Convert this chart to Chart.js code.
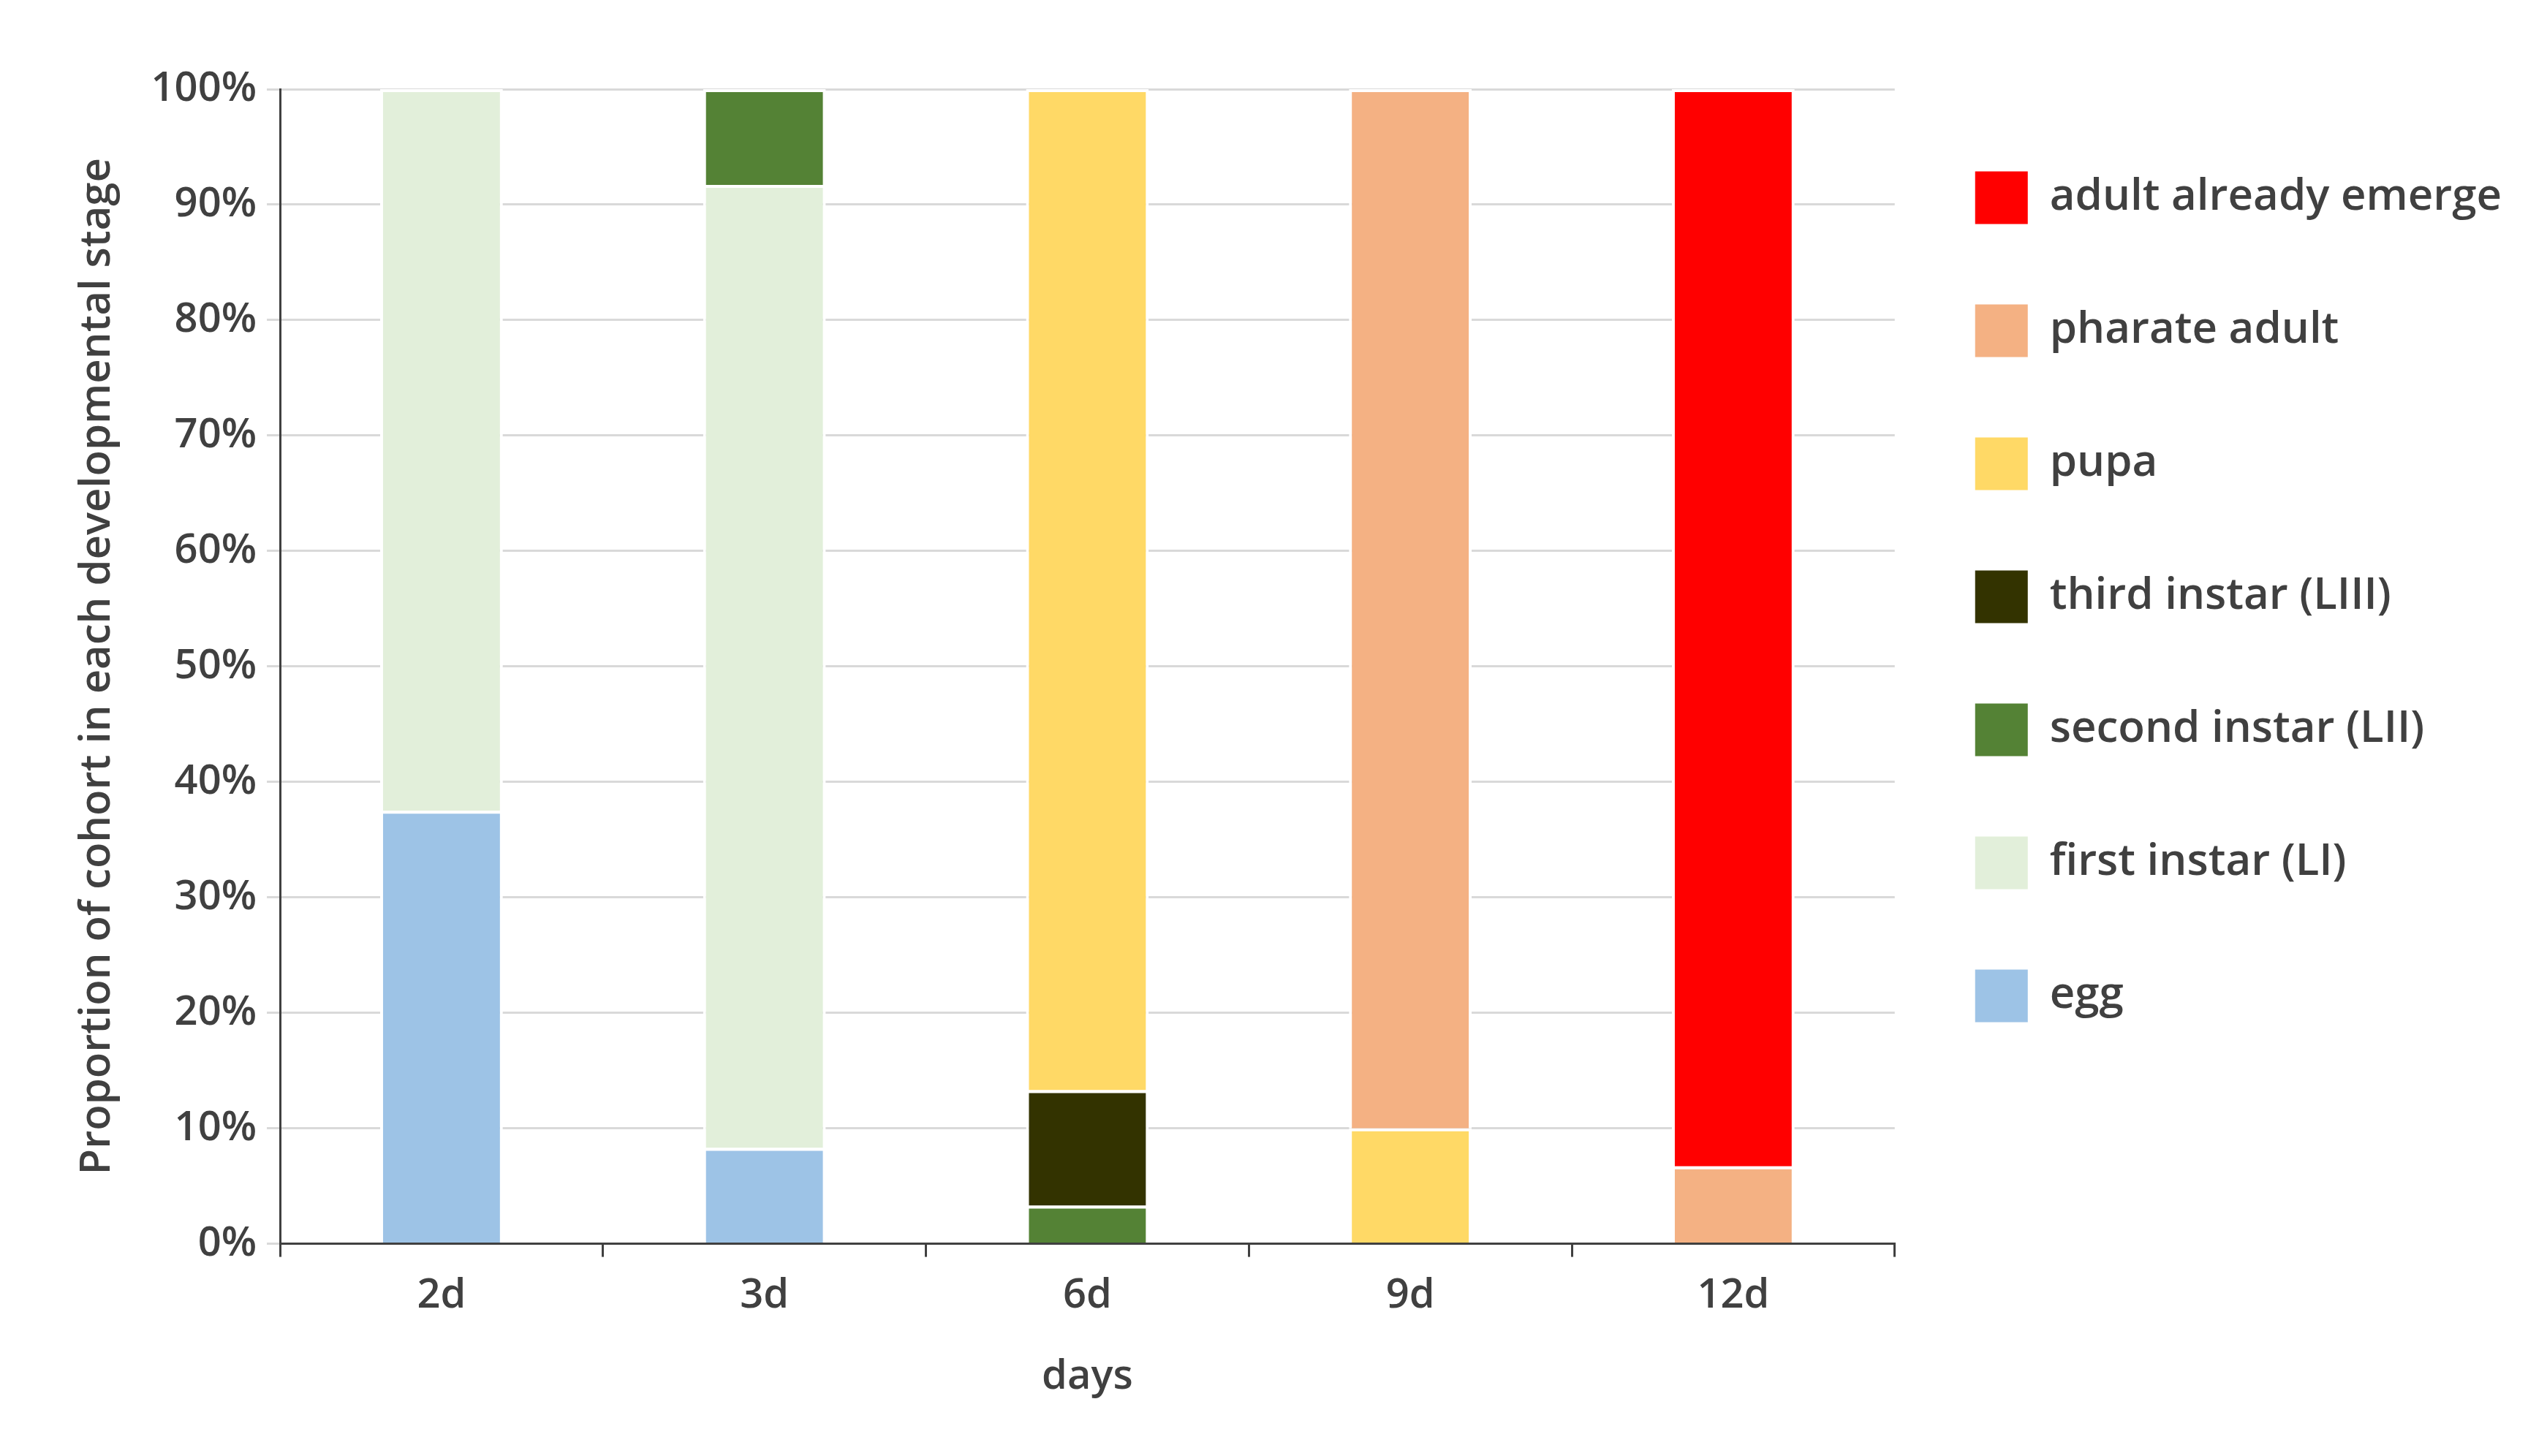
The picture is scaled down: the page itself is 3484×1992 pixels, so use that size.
<!DOCTYPE html>
<html><head><meta charset="utf-8">
<script src="https://cdn.jsdelivr.net/npm/chart.js@4"></script>
<style>html,body{margin:0;background:#fff}#wrap{width:3484px;height:1992px}</style>
</head><body><div id="wrap"><canvas id="c"></canvas></div>
<script>
const days = ['2d', '3d', '6d', '9d', '12d'];
const stages = ['egg', 'first instar (LI)', 'second instar (LII)', 'third instar (LIII)', 'pupa', 'pharate adult', 'adult already emerged'];
const stageColors = ['#9dc3e6', '#e2efda', '#548235', '#333300', '#ffd966', '#f4b183', '#ff0000'];
// percent of cohort per stage, one array per stage, one value per day
const egg = [37.5, 8.3, 0, 0, 0];
const firstInstar = [62.5, 83.4, 0, 0, 0];
const secondInstar = [0, 8.3, 3.3, 0, 0];
const thirdInstar = [0, 0, 10, 0, 0];
const pupa = [0, 0, 86.7, 10, 0];
const pharate = [0, 0, 0, 90, 6.7];
const adult = [0, 0, 0, 0, 93.3];
const stageValues = [egg, firstInstar, secondInstar, thirdInstar, pupa, pharate, adult];

const txt = '#404040';
const fnt = {family: '"Open Sans", sans-serif', size: 56, weight: '600'};

new Chart(document.getElementById('c').getContext('2d'), {
    type: 'bar',
    data: {
        labels: days,
        datasets: stages.map((name, i) => ({
            label: name,
            data: stageValues[i],
            backgroundColor: stageColors[i],
            borderColor: '#ffffff',
            borderWidth: 4,
            barPercentage: 0.38,
            categoryPercentage: 1
        }))
    },
    options: {
        responsive: true,
        maintainAspectRatio: false,
        animation: false,
        layout: {padding: {left: 95, right: 60, top: 122, bottom: 70}},
        scales: {
            x: {
                stacked: true,
                grid: {display: true, drawOnChartArea: false, offset: true, color: '#404040', tickLength: 18, lineWidth: 3},
                border: {color: '#404040', width: 3},
                ticks: {color: txt, font: fnt, padding: 20},
                title: {display: true, text: 'days', color: txt, font: fnt, padding: {top: 24}}
            },
            y: {
                stacked: true,
                min: 0, max: 100,
                grid: {color: '#d9d9d9', lineWidth: 3, tickLength: 18},
                border: {color: '#404040', width: 3},
                ticks: {stepSize: 10, color: txt, font: fnt, padding: 14, callback: v => v + '%'},
                title: {display: true, text: 'Proportion of cohort in each developmental stage', color: txt, font: {family: '"Open Sans", sans-serif', size: 58, weight: '600'}, padding: {bottom: 24}}
            }
        },
        plugins: {
            legend: {
                position: 'right',
                align: 'start',
                reverse: true,
                title: {display: true, text: ' ', font: {size: 2}, padding: {top: 0, bottom: 0}},
                labels: {color: txt, font: {family: '"Open Sans", sans-serif', size: 60, weight: '600'}, boxWidth: 72, boxHeight: 72, padding: 110,
                    generateLabels: chart => Chart.defaults.plugins.legend.labels.generateLabels(chart).map(l => ({...l, lineWidth: 0}))}
            },
            tooltip: {enabled: false}
        }
    }
});
</script></body></html>
